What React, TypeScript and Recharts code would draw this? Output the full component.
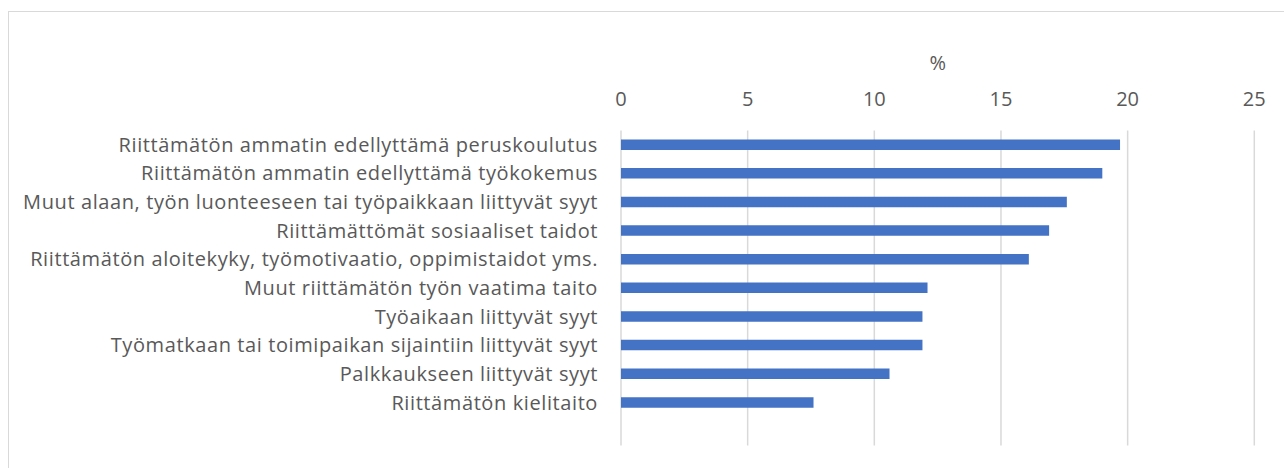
import React from 'react';
import { BarChart, Bar, XAxis, YAxis, CartesianGrid } from 'recharts';

const categories: string[] = [
  'Riittämätön ammatin edellyttämä peruskoulutus',
  'Riittämätön ammatin edellyttämä työkokemus',
  'Muut alaan, työn luonteeseen tai työpaikkaan liittyvät syyt',
  'Riittämättömät sosiaaliset taidot',
  'Riittämätön aloitekyky, työmotivaatio, oppimistaidot yms.',
  'Muut riittämätön työn vaatima taito',
  'Työaikaan liittyvät syyt',
  'Työmatkaan tai toimipaikan sijaintiin liittyvät syyt',
  'Palkkaukseen liittyvät syyt',
  'Riittämätön kielitaito',
  '',
];

const values: (number | null)[] = [19.7, 19.0, 17.6, 16.9, 16.1, 12.1, 11.9, 11.9, 10.6, 7.6, null];

const xTicks: number[] = [0, 5, 10, 15, 20, 25];

const data = categories.map((c, i) => ({ name: c, value: values[i] }));

const FONT = '"Open Sans", sans-serif';
const TEXT = '#595959';

export default function App() {
  return (
    <div
      style={{
        position: 'absolute',
        left: 8,
        top: 8,
        width: 1276,
        height: 460,
        overflow: 'hidden',
        background: '#fff',
        fontFamily: FONT,
      }}
    >
      <div
        style={{
          position: 'absolute',
          left: 0,
          top: 3,
          width: 1400,
          height: 600,
          border: '1.5px solid #D9D9D9',
          boxSizing: 'border-box',
        }}
      />
      <div style={{ position: 'absolute', left: 0, top: 0 }}>
        <BarChart
          width={1276}
          height={460}
          layout="vertical"
          data={data}
          margin={{ top: 82.4, right: 29.7, bottom: 22.6, left: 0 }}
          barSize={10.5}
        >
          <CartesianGrid horizontal={false} stroke="#D9D9D9" strokeWidth={1.5} />
          <XAxis
            type="number"
            orientation="top"
            domain={[0, 25]}
            ticks={xTicks}
            height={40}
            axisLine={false}
            tickLine={false}
            tickSize={8}
            tickMargin={16}
            interval={0}
            tick={{ fill: TEXT, fontSize: 20, fontFamily: FONT }}
            label={{ value: '%', position: 'top', offset: 20, fill: TEXT, fontSize: 20, fontFamily: FONT }}
          />
          <YAxis
            type="category"
            dataKey="name"
            width={613}
            axisLine={false}
            tickLine={false}
            tickSize={8}
            tickMargin={15}
            interval={0}
            tick={{ fill: TEXT, fontSize: 20, fontFamily: FONT, letterSpacing: 0.6 }}
          />
          <Bar dataKey="value" fill="#4472C4" isAnimationActive={false} />
        </BarChart>
      </div>
    </div>
  );
}
